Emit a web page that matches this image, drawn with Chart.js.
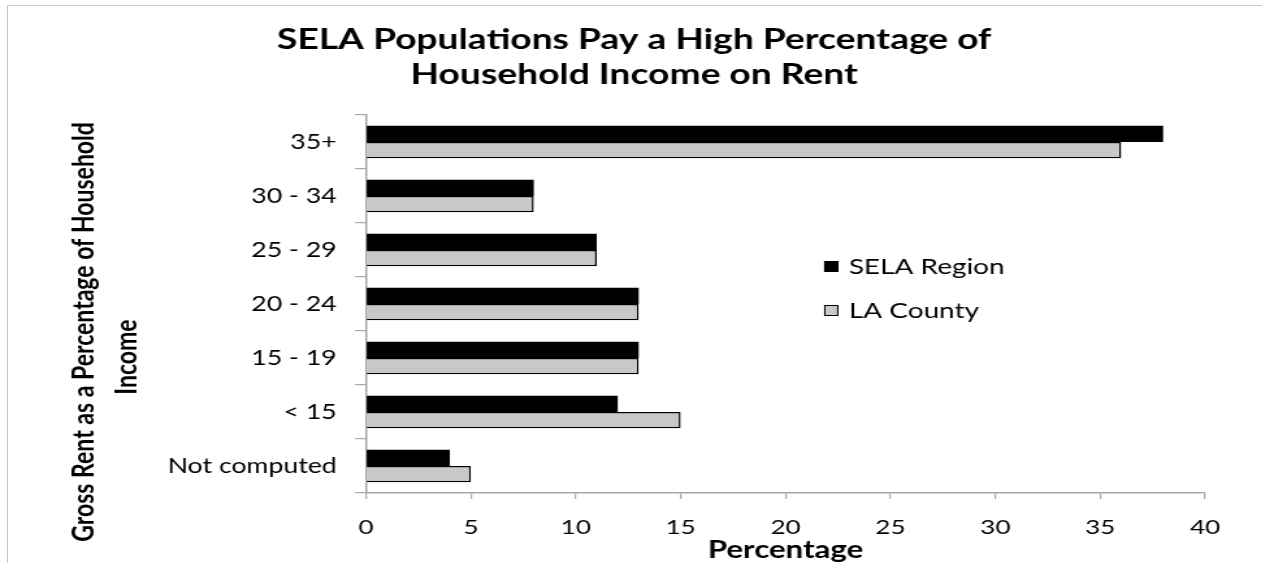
<!DOCTYPE html>
<html>
<head>
<meta charset="utf-8">
<title>SELA rent burden</title>
<script src="https://cdn.jsdelivr.net/npm/chart.js@4.4.1/dist/chart.umd.min.js"></script>
<style>
  html, body { margin: 0; padding: 0; background: #fff; overflow: hidden; }
  body { width: 1262px; height: 563px; position: relative; }
  /* frame of the pasted chart, only top and left edges are visible */
  #frame {
    position: absolute; left: 7px; top: 5px; width: 1400px; height: 700px;
    border-top: 1.5px solid #c6c6c6; border-left: 1.5px solid #c6c6c6;
  }
  /* the original picture is stretched sideways, so the chart is too */
  #wrap {
    position: absolute; left: 0; top: 0; width: 971px; height: 563px;
    transform: scaleX(1.3); transform-origin: 0 0;
  }
</style>
</head>
<body>
<div id="frame"></div>
<div id="wrap"><canvas id="rentChart"></canvas></div>
<script>
const categories = ['35+', '30 - 34', '25 - 29', '20 - 24', '15 - 19', '< 15', 'Not computed'];
const selaRegion = [38, 8, 11, 13, 13, 12, 4];
const laCounty = [36, 8, 11, 13, 13, 15, 5];
const xTickMin = 0;
const xTickMax = 40;
const xTickStep = 5;

const FONT = 'Lato';
const axisGray = '#a8a8a8';

// legend sits inside the plot, right of the short bars
const legendInside = {
    id: 'legendInside',
    afterDraw(chart) {
        const ctx = chart.ctx;
        const area = chart.chartArea;
        const x = area.left + area.width * 0.546;
        let y = area.top + 151.5;
        ctx.save();
        ctx.font = '21.5px ' + FONT;
        ctx.textBaseline = 'middle';
        ctx.textAlign = 'left';
        chart.data.datasets.forEach(function (ds) {
            ctx.fillStyle = ds.backgroundColor;
            ctx.fillRect(x, y - 5.5, 11, 11);
            ctx.strokeStyle = '#000';
            ctx.lineWidth = 1;
            ctx.strokeRect(x + 0.5, y - 5, 10, 10);
            ctx.fillStyle = '#000';
            ctx.fillText(ds.label, x + 19, y + 1);
            y += 44;
        });
        ctx.restore();
    }
};

// the title is centred on the whole picture, not on the padded box
const titleLines = ['SELA Populations Pay a High Percentage of', 'Household Income on Rent']
    .map(function (t) { return ' '.repeat(7) + t; });

const ctx = document.getElementById('rentChart').getContext('2d');
const rentChart = new Chart(ctx, {
    type: 'bar',
    data: {
        labels: categories,
        datasets: [{
            label: 'SELA Region',
            data: selaRegion,
            backgroundColor: '#000000',
            borderColor: '#000000',
            borderWidth: 0
        }, {
            label: 'LA County',
            data: laCounty,
            backgroundColor: '#c8c8c8',
            borderColor: '#000000',
            borderWidth: 1.5
        }]
    },
    options: {
        indexAxis: 'y',
        responsive: true,
        maintainAspectRatio: false,
        animation: false,
        categoryPercentage: 0.6,
        barPercentage: 1.0,
        layout: { padding: { top: 0, right: 44, bottom: 0, left: 0 } },
        plugins: {
            legend: { display: false },
            tooltip: { enabled: false },
            title: {
                display: true,
                text: titleLines,
                color: '#000',
                font: { family: FONT, size: 28.6, weight: 'bold', lineHeight: 35 / 28.6 },
                padding: { top: 22, bottom: 23 }
            }
        },
        scales: {
            x: {
                type: 'linear',
                min: xTickMin,
                max: xTickMax,
                ticks: {
                    stepSize: xTickStep,
                    color: '#000',
                    padding: 17,
                    font: { family: FONT, size: 20 }
                },
                grid: { drawOnChartArea: false, drawTicks: true, tickLength: 6, color: axisGray, lineWidth: 1.2 },
                border: { display: true, color: axisGray, width: 1.5 },
                title: {
                    display: true,
                    text: 'Percentage',
                    color: '#000',
                    font: { family: FONT, size: 24, weight: 'bold', lineHeight: 1.0 },
                    padding: { top: 0, bottom: 1 }
                },
                afterFit: function (scale) { scale.height = 70; }
            },
            y: {
                ticks: {
                    color: '#000',
                    padding: 14,
                    font: { family: FONT, size: 20.5 }
                },
                grid: { drawOnChartArea: false, drawTicks: true, tickLength: 8.5, color: axisGray, lineWidth: 1.2 },
                border: { display: true, color: axisGray, width: 1.5 },
                title: {
                    display: true,
                    // trailing blanks push the centred lines down like the original
                    text: ['Gross Rent as a Percentage of Household'.padEnd(49), 'Income'.padEnd(25)],
                    color: '#000',
                    font: { family: FONT, size: 23, weight: 'bold', lineHeight: 33 / 23 },
                    padding: { top: 48.5, bottom: 0 }
                },
                afterFit: function (scale) { scale.width = 281.5; }
            }
        }
    },
    plugins: [legendInside]
});
</script>
</body>
</html>
